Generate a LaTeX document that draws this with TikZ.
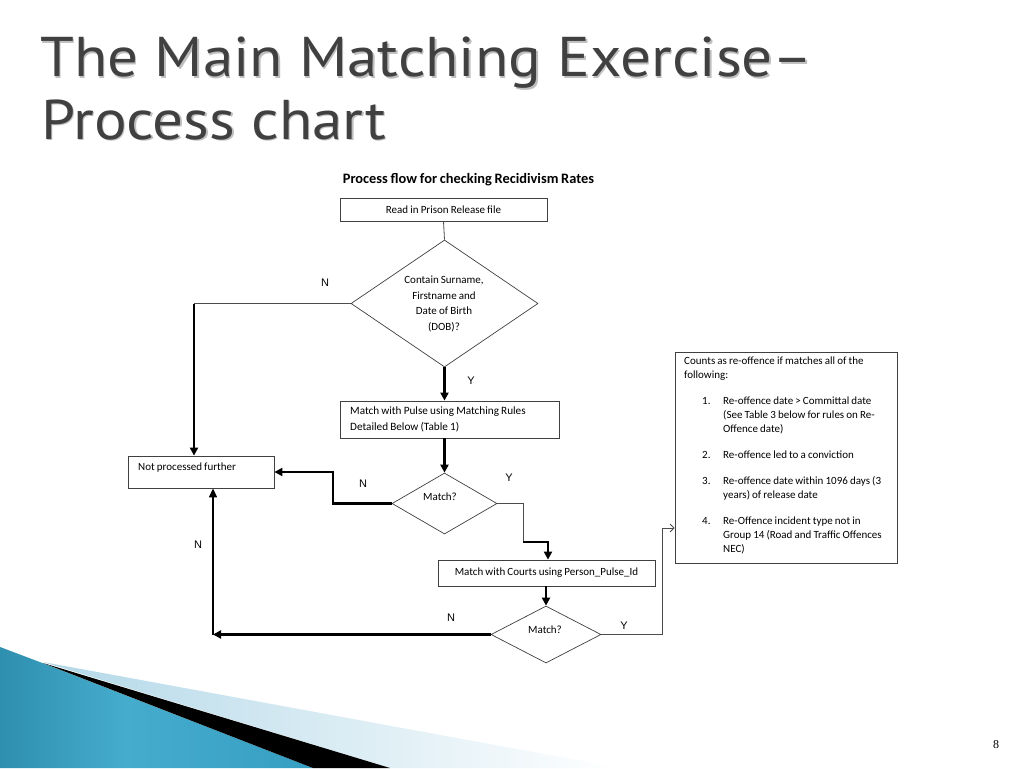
\documentclass[tikz,border=0pt]{standalone}
\usepackage{fontspec}
\setmainfont{Carlito}[WordSpace=0.85]
\newfontfamily\titlefont{PT Sans}
\newfontfamily\lblfont{Liberation Sans}
\newfontfamily\numfont{Liberation Serif}
\usetikzlibrary{shapes.geometric,arrows.meta}
\definecolor{titlegray}{HTML}{404040}
\definecolor{tealA}{HTML}{136B88}
\definecolor{tealB}{HTML}{45ACCE}
\definecolor{tealC}{HTML}{2A93B8}
\definecolor{paleblue}{HTML}{B3D8E8}
\pgfdeclarehorizontalshading{tealsh}{100bp}{color(0bp)=(tealA); color(45bp)=(tealB); color(100bp)=(tealC)}
\begin{document}
\begin{tikzpicture}[x=1pt,y=-1pt,
  box/.style={draw=black!75, line width=0.8pt, rectangle, inner sep=0pt, font=\fontsize{11}{12}\selectfont},
  dia/.style={draw=black!75, line width=0.7pt, diamond, inner sep=0pt},
  txt/.style={font=\fontsize{11}{12}\selectfont, inner sep=0pt},
  thinline/.style={draw=black!70, line width=0.8pt},
  thickline/.style={draw=black, line width=2.4pt},
  midline/.style={draw=black, line width=1.5pt},
  arr/.style={-{Triangle[length=8pt,width=8pt]}},
  midarr/.style={-{Triangle[length=9pt,width=8pt]}},
  openarr/.style={-{Straight Barb[length=4pt,width=8pt]}},
  lbl/.style={font=\lblfont\fontsize{11}{12}\selectfont, inner sep=0pt},
  ttl/.style={anchor=base west, inner sep=0pt, font=\titlefont\fontsize{56}{60}\selectfont}]
\useasboundingbox (0,0) rectangle (1024,768);
\fill[white] (0,0) rectangle (1024,768);

% decoration bottom left
\shade[left color=paleblue, right color=white] (43,662) -- (620,768) -- (390,768) -- cycle;
\shade[shading=tealsh] (0,647) -- (45,664) -- (313,768) -- (0,768) -- cycle;
\fill[black] (43,663) -- (390,768) -- (313,768) -- cycle;

% title
\node[ttl, text=black!25] (t1s) at (41.5,78.5) {\scalebox{1.09}[1]{The Main Matching Exercise–}};
\node[ttl, text=black!25] (t2s) at (42.5,140.5) {\scalebox{1.09}[1]{Process chart}};
\node[ttl, text=titlegray] (t1) at (40,77) {\scalebox{1.09}[1]{The Main Matching Exercise–}};
\node[ttl, text=titlegray] (t2) at (41,139) {\scalebox{1.09}[1]{Process chart}};

% heading
\node[font=\bfseries\fontsize{14.4}{16}\selectfont, inner sep=0pt] (head) at (468.5,180) {Process flow for checking Recidivism Rates};

% nodes
\node[box, minimum width=207pt, minimum height=23pt] (read) at (443.5,209.5) {Read in Prison Release file};
\node[dia, minimum width=187pt, minimum height=127pt] (d1) at (444.5,303.5) {};
\node[txt, align=center, font=\fontsize{11}{15.5}\selectfont] (d1t) at (444,304) {Contain Surname,\\Firstname and\\Date of Birth\\(DOB)?};
\node[box, minimum width=219pt, minimum height=37pt] (pulse) at (449.5,419.5) {};
\node[txt, anchor=west, align=left, font=\fontsize{11.2}{16}\selectfont] (pulset) at (350,419.5) {Match with Pulse using Matching Rules\\Detailed Below (Table 1)};
\node[dia, minimum width=105pt, minimum height=61pt] (d2) at (444.5,503.5) {};
\node[txt] (d2t) at (440,497) {Match?};
\node[box, minimum width=146pt, minimum height=32pt] (np) at (201,472) {};
\node[txt, anchor=west] (npt) at (138,468) {Not processed further};
\node[box, minimum width=217pt, minimum height=26pt] (courts) at (546.5,573) {Match with Courts using Person\_Pulse\_Id};
\node[dia, minimum width=110pt, minimum height=57pt] (d3) at (546,634.5) {};
\node[txt] (d3t) at (545,630) {Match?};
\node[box, minimum width=222pt, minimum height=211pt] (rules) at (786,457.5) {};
\node[txt, anchor=north west, align=left, font=\fontsize{11}{14}\selectfont] (rulestext) at (684,357)
{Counts as re-offence if matches all of the\\
following:\\[12pt]
\hspace*{18pt}\makebox[21pt][l]{1.}Re-offence date > Committal date\\
\hspace*{39pt}(See Table 3 below for rules on Re-\\
\hspace*{39pt}Offence date)\\[12pt]
\hspace*{18pt}\makebox[21pt][l]{2.}Re-offence led to a conviction\\[12pt]
\hspace*{18pt}\makebox[21pt][l]{3.}Re-offence date within 1096 days (3\\
\hspace*{39pt}years) of release date\\[12pt]
\hspace*{18pt}\makebox[21pt][l]{4.}Re-Offence incident type not in\\
\hspace*{39pt}Group 14 (Road and Traffic Offences\\
\hspace*{39pt}NEC)};

% coordinates
\coordinate (c1) at (194,303.5);
\coordinate (c2) at (333,472);
\coordinate (c3) at (523,542);
\coordinate (c4) at (548,542);
\coordinate (c5) at (213,634.5);
\coordinate (c7) at (662,528);

% connectors
\draw[thinline] (read.south) -- (d1.north);
\draw[thinline] (d1.west) -- (c1);
\draw[thickline, arr] (c1) -- (c1 |- np.north);
\draw[thickline, arr] (d1.south) -- (d1.south |- pulse.north);
\draw[thickline, arr] (d2.north |- pulse.south) -- (d2.north);
\draw[thickline, arr] (d2.west) -| (c2) -- (np.east);
\draw[thinline] (d2.east) -| (c3);
\draw[thickline, arr] (c3) -- (c4) -- (c4 |- courts.north);
\draw[thickline, arr] (d3.north |- courts.south) -- (d3.north);
\draw[thickline, arr] (d3.west) -- (c5);
\draw[midline, midarr] (c5) -- (c5 |- np.south);
\draw[thinline, openarr] (d3.east) -| (c7) -- (c7 -| rules.west);

% labels
\node[lbl] (n1) at (325,283) {N};
\node[lbl] (y1) at (471,381) {Y};
\node[lbl] (n2) at (363,484) {N};
\node[lbl] (y2) at (509,478) {Y};
\node[lbl] (n3) at (198,545) {N};
\node[lbl] (n4) at (451,618) {N};
\node[lbl] (y3) at (624,626) {Y};

% page number
\node[font=\numfont\fontsize{12}{14}\selectfont, inner sep=0pt] (pg) at (996,745) {8};
\end{tikzpicture}
\end{document}
